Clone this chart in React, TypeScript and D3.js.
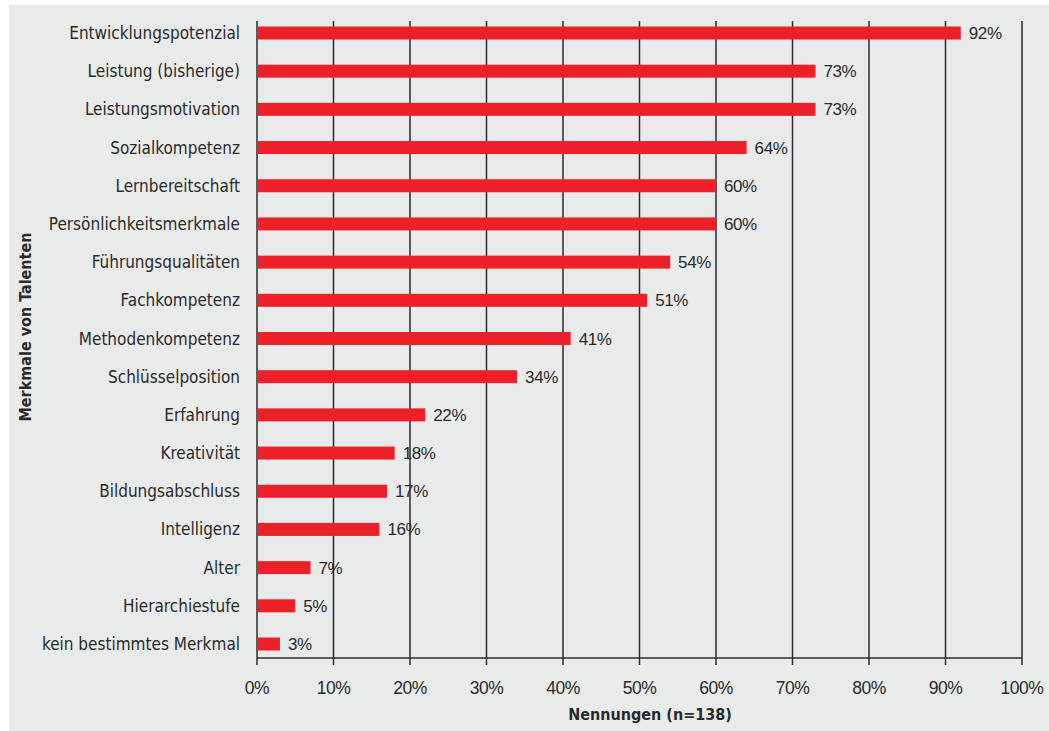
import React from "react";
import * as d3 from "d3";

const categories = [
  "Entwicklungspotenzial",
  "Leistung (bisherige)",
  "Leistungsmotivation",
  "Sozialkompetenz",
  "Lernbereitschaft",
  "Persönlichkeitsmerkmale",
  "Führungsqualitäten",
  "Fachkompetenz",
  "Methodenkompetenz",
  "Schlüsselposition",
  "Erfahrung",
  "Kreativität",
  "Bildungsabschluss",
  "Intelligenz",
  "Alter",
  "Hierarchiestufe",
  "kein bestimmtes Merkmal",
];
const values = [92, 73, 73, 64, 60, 60, 54, 51, 41, 34, 22, 18, 17, 16, 7, 5, 3];
const ticks = [0, 10, 20, 30, 40, 50, 60, 70, 80, 90, 100];
const xTitle = "Nennungen (n=138)";
const yTitle = "Merkmale von Talenten";

const W = 1049;
const H = 731;
const left = 257;
const right = 1022;
const bottom = 658;

export default function App() {
  const x = d3.scaleLinear().domain([0, 100]).range([left, right]);
  const y = d3.scalePoint<string>().domain(categories).range([33, 644]).padding(0);
  const bw = 13;
  const labelFont = "'Liberation Sans Narrow', 'DejaVu Sans Condensed', sans-serif";
  const numFont = "'Liberation Sans', Arial, sans-serif";
  return (
    <svg width={W} height={H} style={{ position: "absolute", left: 0, top: 0 }}>
      <rect x={9} y={5} width={W - 9} height={H - 5} fill="#e9eaea" />
      {ticks.map((t) => (
        <g key={t}>
          <line
            x1={x(t)}
            x2={x(t)}
            y1={21}
            y2={bottom + 7}
            stroke="#2b2b2b"
            strokeWidth={1.5}
          />
          <text
            x={x(t)}
            y={694}
            textAnchor="middle"
            fontFamily={numFont}
            fontSize={17.5}
            fill="#2a2a2a"
            letterSpacing={-0.5}
          >
            {t}%
          </text>
        </g>
      ))}
      <line x1={left} x2={right} y1={bottom} y2={bottom} stroke="#2b2b2b" strokeWidth={1.5} />
      {categories.map((c, i) => {
        const cy = y(c)!;
        return (
          <g key={c}>
            <rect x={x(0)} y={cy - bw / 2} width={x(values[i]) - x(0)} height={bw} fill="#ec2029" />
            <text
              x={240}
              y={cy + 6}
              textAnchor="end"
              fontFamily={labelFont}
              fontSize={17}
              fill="#2a2a2a"
            >
              {c}
            </text>
            <text
              x={x(values[i]) + 8}
              y={cy + 6}
              fontFamily={numFont}
              fontSize={17}
              fill="#2a2a2a"
              letterSpacing={-0.4}
            >
              {values[i]}%
            </text>
          </g>
        );
      })}
      <text
        x={650}
        y={720}
        textAnchor="middle"
        fontFamily={labelFont}
        fontWeight="bold"
        fontSize={16}
        fill="#2a2a2a"
      >
        {xTitle}
      </text>
      <text
        transform={`translate(31,327) rotate(-90)`}
        textAnchor="middle"
        fontFamily={labelFont}
        fontWeight="bold"
        fontSize={16}
        fill="#2a2a2a"
      >
        {yTitle}
      </text>
    </svg>
  );
}
